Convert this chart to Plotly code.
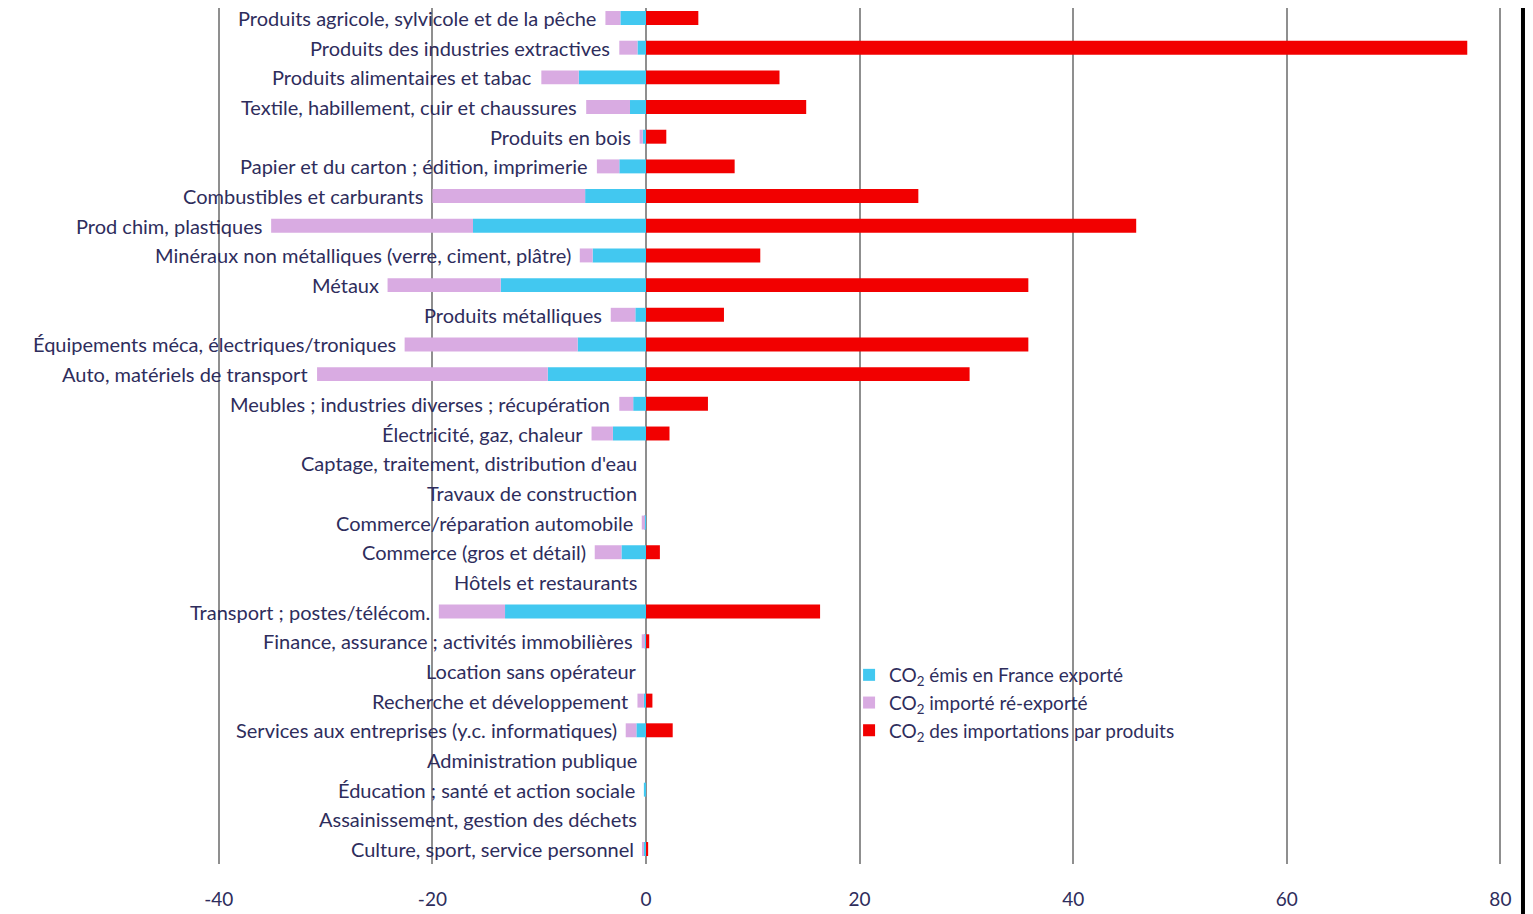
import plotly.graph_objects as go

# secteurs (de haut en bas)
secteurs = [
    "Produits agricole, sylvicole et de la pêche",
    "Produits des industries extractives",
    "Produits alimentaires et tabac",
    "Textile, habillement, cuir et chaussures",
    "Produits en bois",
    "Papier et du carton ; édition, imprimerie",
    "Combustibles et carburants",
    "Prod chim, plastiques",
    "Minéraux non métalliques (verre, ciment, plâtre)",
    "Métaux",
    "Produits métalliques",
    "Équipements méca, électriques/troniques",
    "Auto, matériels de transport",
    "Meubles ; industries diverses ; récupération",
    "Électricité, gaz, chaleur",
    "Captage, traitement, distribution d'eau",
    "Travaux de construction",
    "Commerce/réparation automobile",
    "Commerce (gros et détail)",
    "Hôtels et restaurants",
    "Transport ; postes/télécom.",
    "Finance, assurance ; activités immobilières",
    "Location sans opérateur",
    "Recherche et développement",
    "Services aux entreprises (y.c. informatiques)",
    "Administration publique",
    "Éducation ; santé et action sociale",
    "Assainissement, gestion des déchets",
    "Culture, sport, service personnel",
]

# CO2 émis en France exporté (négatif)
emis_exporte = [-2.4, -0.8, -6.3, -1.5, -0.3, -2.5, -5.7, -16.2, -5.0, -13.6,
                -1.0, -6.4, -9.2, -1.2, -3.1, 0, 0, -0.1, -2.3, 0,
                -13.2, -0.1, 0, -0.2, -0.9, 0, -0.2, 0, -0.2]

# CO2 importé ré-exporté (négatif)
importe_reexporte = [-1.4, -1.7, -3.5, -4.1, -0.3, -2.1, -14.3, -18.9, -1.2, -10.6,
                     -2.3, -16.2, -21.6, -1.3, -2.0, 0, 0, -0.3, -2.5, 0,
                     -6.2, -0.3, 0, -0.6, -1.0, 0, 0, 0, -0.1]

# CO2 des importations par produits
importations = [4.9, 76.9, 12.5, 15.0, 1.9, 8.3, 25.5, 45.9, 10.7, 35.8,
                7.3, 35.8, 30.3, 5.8, 2.2, 0, 0, 0, 1.3, 0,
                16.3, 0.3, 0, 0.6, 2.5, 0, 0, 0, 0.2]

tick_vals = [-40, -20, 0, 20, 40, 60, 80]
tick_text = ["-40", "-20", "0", "20", "40", "60", "80"]

FONT = "Lato"
TXT = "#2e2d5c"
GRID = "#8f8f8f"

fig = go.Figure()
fig.add_trace(go.Bar(
    y=secteurs, x=emis_exporte, orientation="h", width=0.47,
    name="CO<sub>2</sub> émis en France exporté",
    marker=dict(color="#42c8f0", line=dict(width=0)),
))
fig.add_trace(go.Bar(
    y=secteurs, x=importe_reexporte, orientation="h", width=0.47,
    name="CO<sub>2</sub> importé ré-exporté",
    marker=dict(color="#d9abe2", line=dict(width=0)),
))
fig.add_trace(go.Bar(
    y=secteurs, x=importations, orientation="h", width=0.47,
    name="CO<sub>2</sub> des importations par produits",
    marker=dict(color="#f20000", line=dict(width=0)),
))

# libellés à gauche des barres
for s, a, b in zip(secteurs, emis_exporte, importe_reexporte):
    fig.add_annotation(
        x=min(a + b, 0), y=s, text=s, showarrow=False,
        xanchor="right", yanchor="middle", xshift=-7,
        font=dict(family=FONT, size=20, color=TXT),
    )

fig.update_layout(
    width=1525, height=906,
    margin=dict(l=0, r=15, t=0, b=50),
    barmode="relative",
    plot_bgcolor="white", paper_bgcolor="white",
    font=dict(family=FONT, size=19, color=TXT),
    showlegend=True,
    legend=dict(
        x=0.557, y=0.243, xanchor="left", yanchor="top",
        traceorder="normal", bgcolor="rgba(0,0,0,0)",
        font=dict(family=FONT, size=19, color=TXT),
        itemwidth=30, tracegroupgap=0,
    ),
    xaxis=dict(
        range=[-59.74, 81.65], tickvals=tick_vals, ticktext=tick_text,
        showgrid=True, gridcolor=GRID, gridwidth=1.5,
        zeroline=True, zerolinecolor=GRID, zerolinewidth=1.5,
        showline=False, ticks="outside", ticklen=18,
        tickcolor="rgba(0,0,0,0)",
        tickfont=dict(family=FONT, size=19, color=TXT),
    ),
    yaxis=dict(
        range=[28.505, -0.337], showticklabels=False, showgrid=False,
        zeroline=False, showline=False,
    ),
    shapes=[dict(
        type="line", xref="paper", yref="paper",
        x0=1.0033, x1=1.0033, y0=-0.1, y1=1.0,
        line=dict(color="black", width=4),
    )],
)

fig.write_html("out.html")
